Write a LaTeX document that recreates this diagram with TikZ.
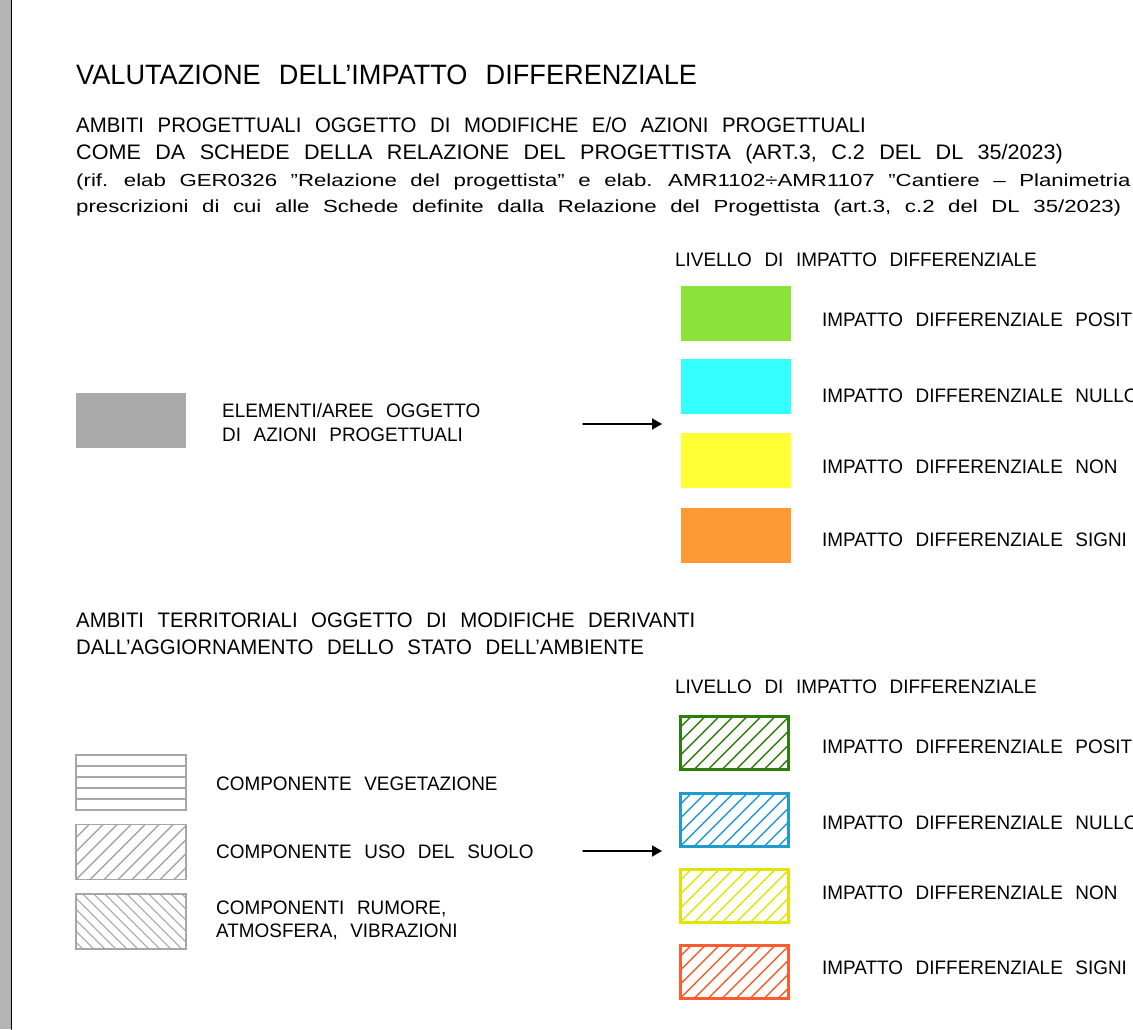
\documentclass[tikz,border=0pt]{standalone}
\usepackage{fontspec}
\setmainfont{Liberation Sans}[FakeStretch=0.97,WordSpace=2.4]
\newfontfamily\notefont{Liberation Sans}[FakeStretch=1.27,WordSpace=2.2]
\usetikzlibrary{arrows.meta,positioning}
\tikzset{>={Triangle[length=10pt,width=11pt]}}

\definecolor{mapgrey}{HTML}{B4B4B4}
\definecolor{areagrey}{HTML}{AAAAAA}
\definecolor{fillpos}{HTML}{8BE33A}
\definecolor{fillnul}{HTML}{33FFFF}
\definecolor{fillnon}{HTML}{FFFF33}
\definecolor{fillsig}{HTML}{FF9933}
\definecolor{hatchpos}{HTML}{2D7F0C}
\definecolor{hatchnul}{HTML}{1E9CCF}
\definecolor{hatchnon}{HTML}{E3E300}
\definecolor{hatchsig}{HTML}{FF5C2B}
\definecolor{compgrey}{HTML}{A6A6A6}

\tikzset{
  lbl/.style={anchor=base west,inner sep=0pt,font=\fontsize{19.5}{20}\selectfont},
  head/.style={lbl,font=\fontsize{21}{22}\selectfont},
  ttl/.style={lbl,font=\fontsize{28}{30}\selectfont},
  note/.style={lbl,font=\notefont\fontsize{17.5}{18}\selectfont},
  swatch/.style={inner sep=0pt,minimum width=110pt,minimum height=55pt},
  hatchne/.style={path picture={
      \foreach \k in {-70,-56,...,130}
        \draw[#1,line width=1.4pt] ([xshift=\k pt]path picture bounding box.south west) -- ++(70,-70);}},
  hatchnw/.style={path picture={
      \foreach \k in {-70,-59,...,130}
        \draw[#1,line width=1.1pt] ([xshift=\k pt]path picture bounding box.north west) -- ++(70,70);}},
  hatchh/.style={path picture={
      \foreach \k in {11,22,...,44}
        \draw[#1,line width=1.1pt] ([yshift=-\k pt]path picture bounding box.north west) -- ++(120,0);}},
  levelbox/.style={swatch,minimum width=108pt,minimum height=53pt,draw=#1,line width=3pt,hatchne=#1},
  compbox/.style={swatch,draw=compgrey,line width=1.6pt}
}

\begin{document}
\begin{tikzpicture}[x=1pt,y=-1pt,line cap=round]

  \useasboundingbox (0,0) rectangle (1133,1029);
  \clip (0,0) rectangle (1133,1029);

  \fill[mapgrey] (0,0) rectangle (11,1029);
  \draw[line width=1.5pt] (11.5,0) -- (11.5,1029);

  % intestazione
  \node[ttl] (title) at (76,84) {VALUTAZIONE DELL’IMPATTO DIFFERENZIALE};
  \node[head] (progA) at (76,132) {AMBITI PROGETTUALI OGGETTO DI MODIFICHE E/O AZIONI PROGETTUALI};
  \node[head,xscale=1.06] (progB) at (76,159) {COME DA SCHEDE DELLA RELAZIONE DEL PROGETTISTA (ART.3, C.2 DEL DL 35/2023)};
  \node[note] (noteA) at (76,186) {(rif. elab GER0326 ”Relazione del progettista” e elab. AMR1102÷AMR1107 ”Cantiere – Planimetria};
  \node[note] (noteB) at (76,212) {prescrizioni di cui alle Schede definite dalla Relazione del Progettista (art.3, c.2 del DL 35/2023)};

  % ambiti progettuali
  \node[lbl] (levelA) at (675,266) {LIVELLO DI IMPATTO DIFFERENZIALE};

  \node[swatch,fill=fillpos] (sPos) at (736,313) {};
  \node[swatch,fill=fillnul,below=18pt of sPos] (sNul) {};
  \node[swatch,fill=fillnon,below=19pt of sNul] (sNon) {};
  \node[swatch,fill=fillsig,below=19pt of sNon] (sSig) {};

  \node[lbl] (tPos) at (822,326) {IMPATTO DIFFERENZIALE POSIT};
  \node[lbl] (tNul) at (822,402) {IMPATTO DIFFERENZIALE NULLO};
  \node[lbl] (tNon) at (822,473) {IMPATTO DIFFERENZIALE NON};
  \node[lbl] (tSig) at (822,546) {IMPATTO DIFFERENZIALE SIGNI};

  \node[swatch,fill=areagrey] (area) at (131,420.5) {};
  \node[lbl] (areaA) at (222,417) {ELEMENTI/AREE OGGETTO};
  \node[lbl] (areaB) at (222,441) {DI AZIONI PROGETTUALI};

  \coordinate (arrAs) at (583,424);
  \coordinate (arrAe) at (662,424);
  \draw[->,line width=1.5pt] (arrAs) -- (arrAe);

  % ambiti territoriali
  \node[head] (terA) at (76,627) {AMBITI TERRITORIALI OGGETTO DI MODIFICHE DERIVANTI};
  \node[head] (terB) at (76,654) {DALL’AGGIORNAMENTO DELLO STATO DELL’AMBIENTE};

  \node[lbl] (levelB) at (675,693) {LIVELLO DI IMPATTO DIFFERENZIALE};

  \node[levelbox=hatchpos] (hPos) at (734.5,742.5) {};
  \node[levelbox=hatchnul,below=21pt of hPos] (hNul) {};
  \node[levelbox=hatchnon,below=20pt of hNul] (hNon) {};
  \node[levelbox=hatchsig,below=20pt of hNon] (hSig) {};

  \node[lbl] (uPos) at (822,753) {IMPATTO DIFFERENZIALE POSIT};
  \node[lbl] (uNul) at (822,829) {IMPATTO DIFFERENZIALE NULLO};
  \node[lbl] (uNon) at (822,899) {IMPATTO DIFFERENZIALE NON};
  \node[lbl] (uSig) at (822,974) {IMPATTO DIFFERENZIALE SIGNI};

  \node[compbox,hatchh=compgrey] (cVeg) at (131,782.5) {};
  \node[compbox,hatchne=compgrey,below=13pt of cVeg] (cSuo) {};
  \node[compbox,hatchnw=compgrey,below=13pt of cSuo] (cRum) {};

  \node[lbl] (vVeg) at (216,790) {COMPONENTE VEGETAZIONE};
  \node[lbl] (vSuo) at (216,858) {COMPONENTE USO DEL SUOLO};
  \node[lbl] (vRumA) at (216,914) {COMPONENTI RUMORE,};
  \node[lbl] (vRumB) at (216,937) {ATMOSFERA, VIBRAZIONI};

  \coordinate (arrBs) at (583,851);
  \coordinate (arrBe) at (662,851);
  \draw[->,line width=1.5pt] (arrBs) -- (arrBe);

\end{tikzpicture}
\end{document}
